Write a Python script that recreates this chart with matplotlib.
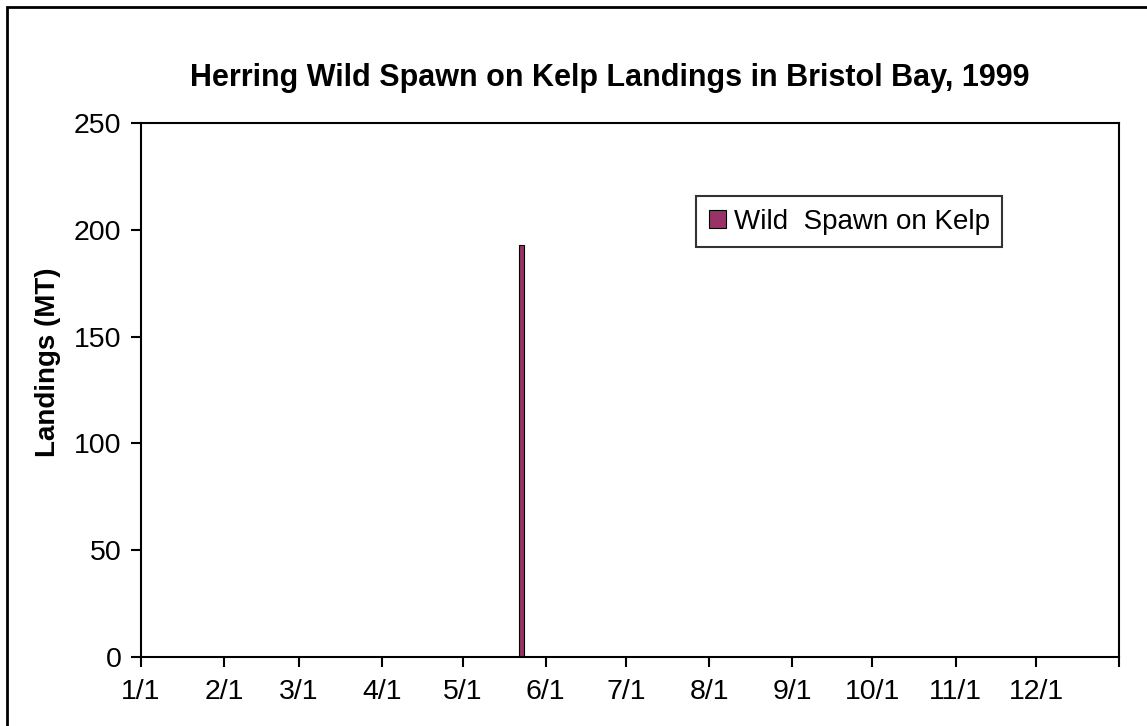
import matplotlib
matplotlib.use("Agg")
import matplotlib.pyplot as plt
import matplotlib.dates as mdates
from matplotlib.patches import Rectangle

plt.rcParams['font.family'] = ['Liberation Sans', 'DejaVu Sans']

# landings by date (metric tons)
landing_dates = ["1999-05-23"]
landings = [193]
series_name = "Wild  Spawn on Kelp"

month_starts = ["1999-%02d-01" % m for m in range(1, 13)] + ["2000-01-01"]
month_labels = ["%d/1" % m for m in range(1, 13)] + [""]

x = mdates.datestr2num(landing_dates)
ticks = mdates.datestr2num(month_starts)

fig = plt.figure(figsize=(11.47, 7.26), dpi=100)
ax = fig.add_axes([0.1229, 0.095, 0.8527, 0.7356])

ax.bar(x, landings, width=1.6, align='center', color='#993366',
       edgecolor='black', linewidth=0.8, label=series_name)

ax.set_xlim(ticks[0], ticks[-1])
ax.set_ylim(0, 250)
ax.set_yticks(range(0, 251, 50))
ax.set_xticks(ticks, labels=month_labels)

for s in ax.spines.values():
    s.set_linewidth(1.5)
ax.tick_params(axis='both', direction='out', length=7, width=1.5,
               labelsize=20.5, colors='black')
ax.tick_params(axis='y', pad=7)
ax.tick_params(axis='x', pad=9)

fig.text(48 / 1147, 1 - 362 / 726, "Landings (MT)", rotation=90,
         ha='center', va='center', fontsize=20, fontweight='bold')
fig.text(0.532, 0.893, "Herring Wild Spawn on Kelp Landings in Bristol Bay, 1999",
         ha='center', va='center', fontsize=22, fontweight='bold')

leg = ax.legend(loc='upper left', bbox_to_anchor=(0.568, 0.863), frameon=True,
                fancybox=False, fontsize=20, handlelength=0.6, handleheight=0.6,
                handletextpad=0.3, borderpad=0.45, borderaxespad=0)
leg.get_frame().set_edgecolor('black')
leg.get_frame().set_linewidth(1.5)

# outer chart border (cropped at right and bottom in the original)
fig.patches.append(Rectangle((7 / 1147, -0.05), 1.1, 1 - 7 / 726 + 0.05,
                             transform=fig.transFigure, fill=False,
                             edgecolor='black', linewidth=2))

fig.savefig("out.png", dpi=100)
